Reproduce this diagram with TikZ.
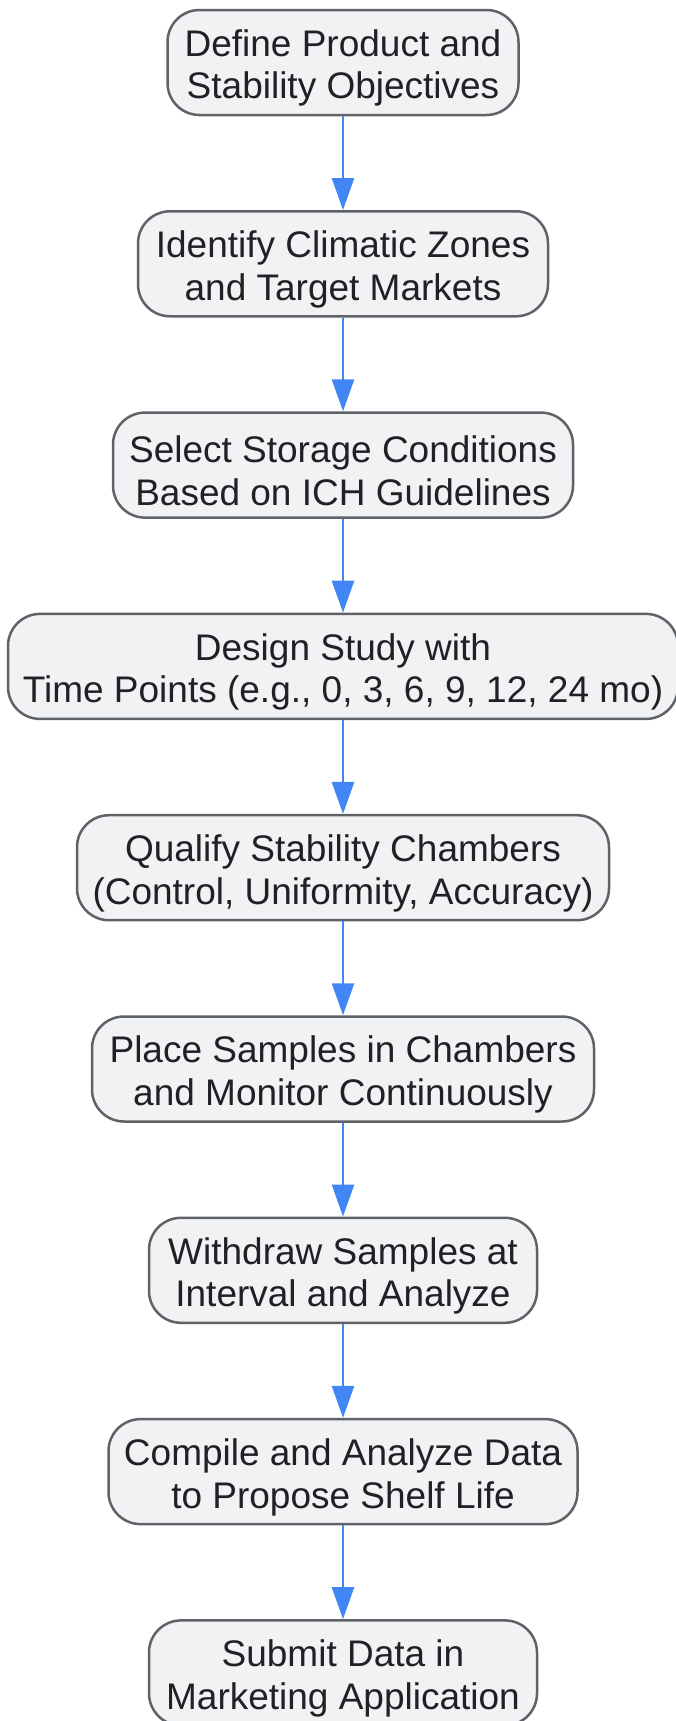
\documentclass[tikz,border=0pt]{standalone}
\usepackage{fontspec}
\setmainfont{Liberation Sans}
\usetikzlibrary{arrows.meta}
\definecolor{boxfill}{HTML}{F1F2F4}
\definecolor{boxline}{HTML}{5F6368}
\definecolor{boxtext}{HTML}{202124}
\definecolor{flowblue}{HTML}{4285F4}
\newcommand{\lift}{\rule{0pt}{38pt}}
\tikzset{
  stage/.style={draw=boxline, fill=boxfill, line width=2.5pt, rounded corners=32pt,
    minimum height=105pt, inner sep=0pt, align=center, text=boxtext,
    font=\fontsize{37}{42.5}\selectfont},
  flow/.style={color=flowblue, line width=2.5pt, -{Triangle[length=32pt,width=22pt]}},
}
\begin{document}
\begin{tikzpicture}[x=1pt,y=-1pt]
        \clip (0,0) rectangle (676,1721);
        \useasboundingbox (0,0) rectangle (676,1721);

        \node[stage, minimum width=351pt] (define)   at (343,62.5)   {\lift Define Product and\\Stability Objectives};
        \node[stage, minimum width=410pt] (zones)    at (343,263.8)  {\lift Identify Climatic Zones\\and Target Markets};
        \node[stage, minimum width=460pt] (select)   at (343,465.1)  {\lift Select Storage Conditions\\Based on ICH Guidelines};
        \node[stage, minimum width=670pt] (design)   at (343,666.4)  {\lift Design Study with\\Time Points (e.g., 0, 3, 6, 9, 12, 24 mo)};
        \node[stage, minimum width=532pt] (qualify)  at (343,867.7)  {\lift Qualify Stability Chambers\\(Control, Uniformity, Accuracy)};
        \node[stage, minimum width=502pt] (place)    at (343,1069)   {\lift Place Samples in Chambers\\and Monitor Continuously};
        \node[stage, minimum width=388pt] (withdraw) at (343,1270.3) {\lift Withdraw Samples at\\Interval and Analyze};
        \node[stage, minimum width=469pt] (compile)  at (343,1471.6) {\lift Compile and Analyze Data\\to Propose Shelf Life};
        \node[stage, minimum width=388pt] (submit)   at (343,1672.9) {\lift Submit Data in\\Marketing Application};

        \path [flow] (define) edge (zones);
        \path [flow] (zones) edge (select);
        \path [flow] (select) edge (design);
        \path [flow] (design) edge (qualify);
        \path [flow] (qualify) edge (place);
        \path [flow] (place) edge (withdraw);
        \path [flow] (withdraw) edge (compile);
        \path [flow] (compile) edge (submit);
    \end{tikzpicture}
\end{document}
